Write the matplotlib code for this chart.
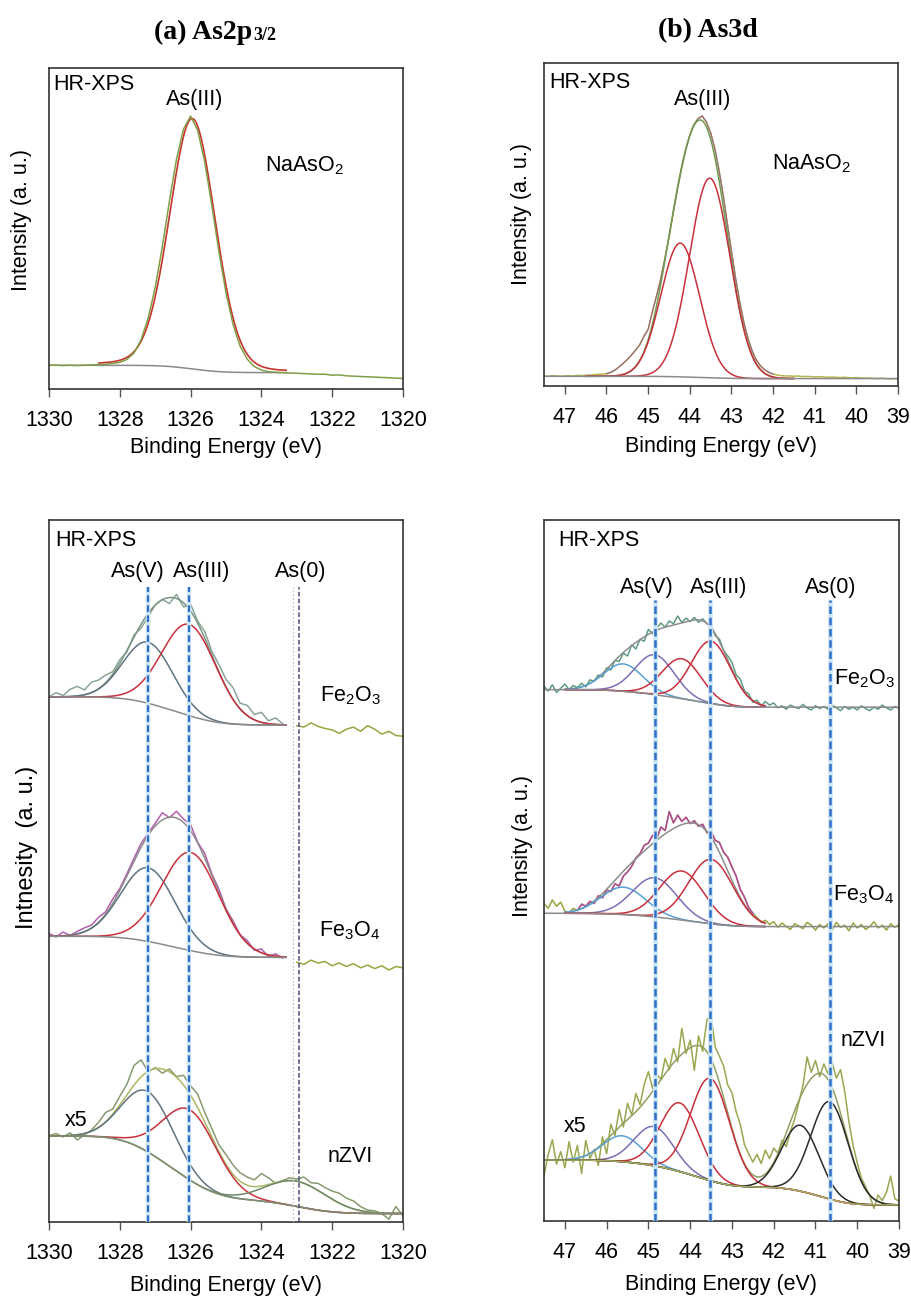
import numpy as np
import matplotlib
matplotlib.use("Agg")
import matplotlib.pyplot as plt

plt.rcParams['font.family'] = ['Liberation Sans', 'DejaVu Sans']
plt.rcParams['mathtext.fontset'] = 'custom'
plt.rcParams['mathtext.rm'] = 'Liberation Sans'
plt.rcParams['mathtext.it'] = 'Liberation Sans:italic'
plt.rcParams['mathtext.bf'] = 'Liberation Sans:bold'

W, H = 912, 1298

# ------------------------------------------------------------------ data
a_xlim = (1330.0, 1320.0)
b_xlim = (47.5, 39.0)
a_ticks = [1330, 1328, 1326, 1324, 1322, 1320]
b_ticks = [47, 46, 45, 44, 43, 42, 41, 40, 39]

# (a) As2p3/2 -- NaAsO2 reference
a_na_start, a_na_step = 1330.0, 0.2
a_na_raw = [7.4, 7.4, 7.3, 7.4, 7.3, 7.4, 7.5, 7.6, 7.7, 8.0,
            8.3, 9.2, 11.2, 15.3, 22.0, 31.6, 44.2, 58.4, 71.5, 81.0,
            85.0, 80.6, 70.7, 57.2, 42.8, 30.0, 20.1, 13.3, 9.3, 7.0,
            5.9, 5.4, 5.2, 5.1, 5.0, 4.9, 4.8, 4.7, 4.6, 4.6,
            4.3, 4.4, 4.1, 4.0, 3.9, 3.8, 3.7, 3.6, 3.5, 3.4,
            3.3]
a_na_centers = [1325.95]
a_na_heights = [78.0]
a_na_fwhm = [1.52]
a_na_eta = [0.12]
a_na_bg = (7.4, 5.1)
a_na_range = (1330.0, 1323.3)
a_na_comp_range = (1328.6, 1323.3)

# (a) As2p3/2 -- adsorbed samples (offset stack)
a_fe2o3_start, a_step = 1330.0, 0.2
a_fe2o3_raw = [74.8, 75.4, 75.0, 75.9, 76.3, 75.8, 76.9, 77.2, 77.9, 78.4,
               80.1, 81.2, 83.6, 84.6, 86.2, 87.9, 88.7, 88.1, 89.4, 87.6,
               88.0, 85.6, 84.1, 81.3, 79.4, 77.3, 76.1, 73.9, 73.6, 72.3,
               72.6, 71.4, 71.8, 71.0]
a_fe2o3_tail_start = 1323.0
a_fe2o3_tail = [70.7, 70.5, 71.1, 70.6, 70.3, 70.1, 69.6, 70.2, 70.5, 69.9,
                70.7, 70.2, 69.5, 69.9, 69.3, 69.2]
a_fe2o3_centers = [1327.2, 1326.04]
a_fe2o3_heights = [8.7, 13.0]
a_fe2o3_fwhm = [1.64, 1.8]
a_fe2o3_bg = (74.8, 70.8)

a_fe3o4_start = 1330.0
a_fe3o4_raw = [41.1, 40.6, 41.3, 40.8, 41.4, 41.9, 42.3, 43.4, 44.2, 46.0,
               47.5, 49.6, 51.8, 53.9, 55.4, 56.8, 58.3, 57.6, 58.5, 57.4,
               56.6, 54.1, 52.5, 49.6, 47.4, 44.6, 42.9, 40.9, 40.1, 38.7,
               38.9, 37.8, 38.2, 37.6]
a_fe3o4_tail_start = 1323.0
a_fe3o4_tail = [37.0, 36.7, 37.3, 36.9, 37.1, 36.5, 36.9, 36.4, 36.8, 36.2,
                36.6, 36.1, 36.5, 35.9, 36.4, 36.2]
a_fe3o4_centers = [1327.2, 1326.0]
a_fe3o4_heights = [10.5, 14.0]
a_fe3o4_fwhm = [1.8, 1.9]
a_fe3o4_bg = (40.7, 37.7)
a_oxide_range = (1330.0, 1323.3)

a_nzvi_start = 1330.0
a_nzvi_raw = [12.3, 12.6, 12.1, 12.7, 11.7, 12.4, 13.1, 14.2, 15.6, 16.1,
              17.9, 19.6, 22.3, 23.1, 21.4, 22.0, 21.2, 21.8, 20.7, 20.9,
              19.4, 18.2, 15.6, 13.3, 11.0, 9.6, 8.1, 7.0, 6.4, 6.0,
              6.9, 6.3, 5.5, 5.9, 6.3, 6.1, 6.4, 5.6, 5.5, 4.9,
              4.4, 4.1, 3.4, 3.0, 2.2, 1.7, 1.6, 1.2, 0.4, 2.2,
              0.9]
a_nzvi_centers = [1327.2, 1326.0, 1323.0]
a_nzvi_heights = [8.6, 10.0, 3.6]
a_nzvi_fwhm = [1.7, 1.8, 2.0]
a_nzvi_bg = (12.25, 1.2)

a_lines = [1327.2, 1326.05, 1322.95]
a_line_labels = ["As(V)", "As(III)", "As(0)"]

# (b) As3d -- NaAsO2 reference
b_start, b_step = 47.5, 0.1
b_na_raw = [3.1, 3.0, 3.2, 3.1, 3.0, 3.1, 3.2, 3.1, 3.3, 3.2, 3.3, 3.4, 3.5, 3.6, 3.7,
            3.8, 4.2, 4.9, 5.9, 7.0, 8.2, 9.6, 11.1, 12.8, 15.4,
            17.5, 22.9, 27.8, 33.0, 39.3, 46.0, 53.4, 60.6, 67.2, 72.9,
            77.6, 80.9, 82.8, 83.6, 81.7, 78.5, 73.6, 67.0, 59.3, 50.5,
            41.8, 33.4, 26.0, 19.6, 14.6, 10.8, 8.0, 6.2, 5.0, 4.2,
            3.7, 3.4, 3.2, 3.1, 3.1, 3.0, 3.1, 2.9, 3.0, 2.9,
            2.8, 2.9, 2.8, 2.7, 2.8, 2.7, 2.6, 2.7, 2.6, 2.5,
            2.6, 2.5, 2.4, 2.5, 2.4, 2.3, 2.4, 2.3, 2.2, 2.3,
            2.2]
b_na_centers = [44.23, 43.52]
b_na_heights = [41.4, 61.8]
b_na_fwhm = [1.1, 1.15]
b_na_bg = (3.0, 2.3)
b_na_comp_range = (46.5, 41.5)

# (b) As3d -- adsorbed samples
b_fe2o3_raw = [76.3, 75.6, 76.5, 75.4, 76.0, 76.6, 75.8, 76.4, 76.1, 76.7,
               76.2, 77.2, 77.0, 77.9, 77.6, 78.9, 78.6, 80.0, 79.8, 81.0,
               80.6, 82.2, 81.6, 83.0, 82.7, 84.4, 83.8, 84.6, 85.3, 84.7,
               85.6, 85.2, 86.3, 85.4, 86.0, 85.5, 86.1, 85.4, 85.9, 85.2,
               85.0, 83.5, 83.0, 81.4, 80.6, 79.7, 77.9, 77.3, 75.6, 75.2,
               74.0, 74.3, 73.5, 74.1, 73.6, 73.9, 73.2, 73.5, 73.0, 73.6,
               73.3, 73.1, 73.7, 73.2, 72.9, 73.5, 73.1, 73.4, 73.0, 73.6,
               73.2, 72.8, 73.4, 73.0, 73.3, 72.9, 73.5, 73.1, 72.8, 73.3,
               73.0, 73.6, 73.2, 72.9, 73.4, 73.1]
b_fe2o3_centers = [45.6, 44.85, 44.2, 43.5]
b_fe2o3_heights = [3.9, 5.7, 5.7, 8.9]
b_fe2o3_fwhm = [1.1, 1.1, 1.1, 1.1]
b_fe2o3_bg = (75.8, 73.3)

b_fe3o4_raw = [45.3, 44.6, 45.8, 44.9, 45.5, 44.2, 44.0, 44.6, 44.3, 45.2,
               44.9, 45.6, 45.3, 46.4, 46.1, 47.2, 47.0, 48.1, 47.8, 49.2,
               49.8, 50.6, 51.8, 52.4, 53.6, 53.9, 55.0, 54.6, 56.2, 55.7,
               58.4, 56.8, 57.9, 57.0, 57.6, 56.7, 57.1, 56.3, 56.6, 55.4,
               55.6, 54.3, 54.0, 52.6, 51.9, 50.5, 49.2, 47.3, 46.2, 44.7,
               43.9, 43.3, 42.6, 42.9, 42.3, 42.7, 41.9, 42.5, 42.0, 41.6,
               42.4, 42.1, 41.7, 42.6, 42.2, 41.5, 42.3, 41.8, 42.4, 41.5,
               42.6, 41.9, 42.2, 41.4, 42.5, 41.8, 42.3, 41.6, 42.0, 42.7,
               41.8, 42.2, 41.5, 42.4, 41.9, 42.3]
b_fe3o4_centers = [45.6, 44.85, 44.2, 43.5]
b_fe3o4_heights = [3.9, 5.6, 7.0, 9.2]
b_fe3o4_fwhm = [1.25, 1.25, 1.25, 1.25]
b_fe3o4_bg = (43.9, 42.0)
b_oxide_comp_range = (47.0, 42.2)

b_nzvi_raw = [6.4, 9.5, 11.6, 8.1, 9.9, 7.6, 11.3, 8.4, 10.8, 6.8,
              11.5, 8.9, 10.2, 7.9, 12.0, 9.6, 13.8, 12.2, 15.9, 13.4,
              16.8, 15.1, 18.2, 16.6, 19.5, 21.3, 18.9, 20.9, 20.2, 23.2,
              21.6, 24.6, 22.7, 27.5, 23.9, 25.8, 21.5, 26.4, 24.2, 28.7,
              29.3, 24.8, 23.5, 22.1, 19.4, 18.3, 15.6, 13.8, 10.9, 9.6,
              8.4, 9.5, 8.2, 10.1, 8.9, 10.4, 9.7, 11.5, 10.6, 12.8,
              14.5, 16.9, 19.3, 23.4, 21.2, 22.9, 20.6, 22.4, 21.0, 22.6,
              20.4, 21.6, 18.5, 14.2, 10.8, 8.3, 6.1, 4.9, 3.6, 1.8,
              3.7, 2.9, 4.1, 6.4, 3.2, 2.8]
b_nzvi_centers = [45.63, 44.87, 44.25, 43.52, 41.36, 40.66]
b_nzvi_heights = [3.7, 5.6, 9.8, 14.6, 9.4, 13.9]
b_nzvi_fwhm = [1.1, 1.1, 1.1, 1.1, 1.05, 1.05]
b_nzvi_bg = (8.7, 2.3)

b_lines = [44.85, 43.52, 40.65]
b_line_labels = ["As(V)", "As(III)", "As(0)"]

# ------------------------------------------------------------------ colours
RED = '#c8303c'
SLATE = '#5f7380'
BGC = '#8a8a8a'
BLUE1 = '#5aa0d2'
BLUE2 = '#7b6fb5'
BLACK = '#2a2a2a'
OLIVE = '#9aa43e'
DASH = '#2f6fc6'
FS = 15.5


def pv(E, c, h, w, eta=0.0):
    g = np.exp(-4 * np.log(2) * ((E - c) / w) ** 2)
    lo = 1.0 / (1.0 + 4 * ((E - c) / w) ** 2)
    return h * ((1 - eta) * g + eta * lo)


def shirley(total, left, right):
    cum = np.cumsum(total[::-1])[::-1]
    return right + (left - right) * cum / cum[0]


def fit(E, centers, heights, fwhm, bg_lr, etas=None):
    if etas is None:
        etas = [0.0] * len(centers)
    comps = [pv(E, c, h, w, e) for c, h, w, e in zip(centers, heights, fwhm, etas)]
    total = np.sum(comps, axis=0)
    bg = shirley(total, *bg_lr)
    return bg, comps, bg + total


def grid(start, step, n):
    return start - step * np.arange(n)


fig = plt.figure(figsize=(W / 100, H / 100), dpi=100)


def add_ax(l, t, r, b):
    return fig.add_axes([l / W, 1 - b / H, (r - l) / W, (b - t) / H])


ax1 = add_ax(49, 68, 403, 389)
ax2 = add_ax(544, 63, 898, 386)
ax3 = add_ax(49, 520, 403, 1222)
ax4 = add_ax(544, 520, 899, 1221)

for ax, xl, tk in [(ax1, a_xlim, a_ticks), (ax2, b_xlim, b_ticks),
                   (ax3, a_xlim, a_ticks), (ax4, b_xlim, b_ticks)]:
    ax.set_xlim(*xl)
    ax.set_ylim(0, 100)
    ax.set_xticks(tk)
    ax.set_xticklabels([str(t) for t in tk])
    ax.tick_params(axis='x', direction='out', length=6, width=1.0, color='#555555',
                   pad=9, labelsize=FS)
    ax.tick_params(axis='y', left=False, labelleft=False)
    for s in ax.spines.values():
        s.set_linewidth(1.2)
        s.set_color('#333333')
    ax.set_xlabel('Binding Energy (eV)', fontsize=FS)

ax1.xaxis.set_label_coords(0.5, -0.148)
ax2.xaxis.set_label_coords(0.5, -0.156)
ax3.xaxis.set_label_coords(0.5, -0.075)
ax4.xaxis.set_label_coords(0.5, -0.075)

LW = 1.1

# ---------------- panel (a) top
E = np.linspace(a_na_range[0], a_na_range[1], 700)
bg, comps, env = fit(E, a_na_centers, a_na_heights, a_na_fwhm, a_na_bg, a_na_eta)
Er = grid(a_na_start, a_na_step, len(a_na_raw))
m = (E <= a_na_comp_range[0]) & (E >= a_na_comp_range[1])
ax1.plot(E[m], env[m], color='#e0c860', lw=LW)
ax1.plot(E[m], (bg + comps[0])[m], color=RED, lw=LW)
ax1.plot(E, bg, color=BGC, lw=LW)
ax1.plot(Er, a_na_raw, color='#7f9e45', lw=LW)

# ---------------- panel (b) top
E = np.linspace(b_xlim[0], b_xlim[1], 900)
bg, comps, env = fit(E, b_na_centers, b_na_heights, b_na_fwhm, b_na_bg)
Er = grid(b_start, b_step, len(b_na_raw))
ax2.plot(Er, b_na_raw, color='#b5b84a', lw=LW)
mr = (Er <= 46.0) & (Er >= 42.0)
ax2.plot(Er[mr], np.array(b_na_raw)[mr], color='#9a6a7e', lw=0.9)
m = (E <= b_na_comp_range[0]) & (E >= b_na_comp_range[1])
ax2.plot(E[m], env[m], color='#6f9a50', lw=LW)
for c in comps:
    ax2.plot(E[m], (bg + c)[m], color=RED, lw=LW)
ax2.plot(E, bg, color=BGC, lw=LW)

# ---------------- panel (a) bottom
E = np.linspace(a_oxide_range[0], a_oxide_range[1], 700)
for raw, start, tail, tstart, cen, hei, fw, bgl, rawc, envc in [
        (a_fe2o3_raw, a_fe2o3_start, a_fe2o3_tail, a_fe2o3_tail_start, a_fe2o3_centers,
         a_fe2o3_heights, a_fe2o3_fwhm, a_fe2o3_bg, '#8aa596', '#7a9682'),
        (a_fe3o4_raw, a_fe3o4_start, a_fe3o4_tail, a_fe3o4_tail_start, a_fe3o4_centers,
         a_fe3o4_heights, a_fe3o4_fwhm, a_fe3o4_bg, '#b45fae', '#8c8c8c')]:
    bg, comps, env = fit(E, cen, hei, fw, bgl)
    Er = grid(start, a_step, len(raw))
    ax3.plot(Er, raw, color=rawc, lw=LW)
    ax3.plot(E, env, color=envc, lw=LW)
    ax3.plot(E, bg + comps[0], color=SLATE, lw=LW)
    ax3.plot(E, bg + comps[1], color=RED, lw=LW)
    ax3.plot(E, bg, color=BGC, lw=LW)
    Et = grid(tstart, a_step, len(tail))
    ax3.plot(Et, tail, color=OLIVE, lw=LW)

E = np.linspace(a_xlim[0], a_xlim[1], 900)
bg, comps, env = fit(E, a_nzvi_centers, a_nzvi_heights, a_nzvi_fwhm, a_nzvi_bg)
Er = grid(a_nzvi_start, a_step, len(a_nzvi_raw))
ax3.plot(Er, a_nzvi_raw, color='#879a70', lw=LW)
ax3.plot(E, env, color='#a9b863', lw=LW)
ax3.plot(E, bg + comps[0], color=SLATE, lw=LW)
ax3.plot(E, bg + comps[1], color=RED, lw=LW)
ax3.plot(E, bg + comps[2], color='#6f8a6a', lw=LW)
ax3.plot(E, bg, color='#7f8f6f', lw=LW)

ytop_a = 90.5
ax3.vlines(a_lines[:2], 0, ytop_a, color='#cfe6f6', lw=3.2, zorder=4)
ax3.vlines(a_lines[:2], 0, ytop_a, color=DASH, lw=1.6, linestyles=(0, (3.0, 1.5)), zorder=5)
ax3.vlines([1323.1], 0, ytop_a, color='#c8c8d0', lw=0.9, linestyles=(0, (1.5, 1.5)), zorder=4)
ax3.vlines(a_lines[2:], 0, ytop_a, color='#4a4a78', lw=1.1, linestyles=(0, (3.0, 1.5)), zorder=5)

# ---------------- panel (b) bottom
E = np.linspace(b_xlim[0], b_xlim[1], 900)
mc = (E <= b_oxide_comp_range[0]) & (E >= b_oxide_comp_range[1])
comp_cols = [BLUE1, BLUE2, RED, RED]
for raw, cen, hei, fw, bgl, rawc in [
        (b_fe2o3_raw, b_fe2o3_centers, b_fe2o3_heights, b_fe2o3_fwhm, b_fe2o3_bg, '#5e9c80'),
        (b_fe3o4_raw, b_fe3o4_centers, b_fe3o4_heights, b_fe3o4_fwhm, b_fe3o4_bg, OLIVE)]:
    bg, comps, env = fit(E, cen, hei, fw, bgl)
    Er = grid(b_start, b_step, len(raw))
    ax4.plot(Er, raw, color=rawc, lw=LW)
    if raw is b_fe3o4_raw:
        mr = (Er <= 46.7) & (Er >= 42.5)
        ax4.plot(Er[mr], np.array(raw)[mr], color='#b4489a', lw=LW)
    ax4.plot(E[mc], env[mc], color='#8c8c8c', lw=LW)
    for c, col in zip(comps, comp_cols):
        ax4.plot(E[mc], (bg + c)[mc], color=col, lw=LW)
    ax4.plot(E, bg, color=BGC, lw=LW)

bg, comps, env = fit(E, b_nzvi_centers, b_nzvi_heights, b_nzvi_fwhm, b_nzvi_bg)
Er = grid(b_start, b_step, len(b_nzvi_raw))
ax4.plot(Er, b_nzvi_raw, color='#98a850', lw=LW)
ax4.plot(E, env, color='#8fa060', lw=LW)
for c, col in zip(comps, comp_cols + [BLACK, BLACK]):
    ax4.plot(E, bg + c, color=col, lw=LW)
ax4.plot(E, bg, color='#a8b060', lw=LW)

ytop_b = 88.6
ax4.vlines(b_lines, 0, ytop_b, color='#cfe6f6', lw=3.4, zorder=4)
ax4.vlines(b_lines, 0, ytop_b, color=DASH, lw=1.8, linestyles=(0, (3.0, 1.5)), zorder=5)


# ------------------------------------------------------------------ texts
def ftext(px, py, s, **kw):
    kw.setdefault('fontsize', FS)
    return fig.text(px / W, 1 - py / H, s, **kw)


# titles
t = ftext(154, 39, '(a) As2p', family='Liberation Serif', fontweight='bold',
          fontsize=20, ha='left', va='baseline')
ax1.annotate('3/2', xy=(1, 0), xycoords=t, xytext=(0.5, 3.5), textcoords='offset points',
             family='Liberation Serif', fontweight='bold', fontsize=13,
             ha='left', va='baseline', annotation_clip=False)
ftext(708, 37, '(b) As3d', family='Liberation Serif', fontweight='bold',
      fontsize=20, ha='center', va='baseline')

# y labels
ftext(22, 220, 'Intensity (a. u.)', rotation=90, ha='center', va='center')
ftext(522, 214, 'Intensity (a. u.)', rotation=90, ha='center', va='center')
ftext(27, 847, 'Intnesity  (a. u.)', rotation=90, ha='center', va='center', fontsize=17)
ftext(523, 846, 'Intensity (a. u.)', rotation=90, ha='center', va='center')

# in-panel labels
ftext(53, 84, 'HR-XPS', ha='left', va='center')
ftext(195, 100, 'As(III)', ha='center', va='center')
ftext(305, 166, r'NaAsO$_2$', ha='center', va='center')

ftext(549, 82, 'HR-XPS', ha='left', va='center')
ftext(703, 100, 'As(III)', ha='center', va='center')
ftext(812, 164, r'NaAsO$_2$', ha='center', va='center')

ftext(55, 541, 'HR-XPS', ha='left', va='center')
for x, s in zip([138, 202, 301], a_line_labels):
    ftext(x, 572, s, ha='center', va='center')
ftext(350, 696, r'Fe$_2$O$_3$', ha='center', va='center')
ftext(350, 931, r'Fe$_3$O$_4$', ha='center', va='center')
ftext(350, 1157, 'nZVI', ha='center', va='center')
ftext(76, 1120, 'x5', ha='center', va='center')

ftext(558, 541, 'HR-XPS', ha='left', va='center')
for x, s in zip([647, 719, 831], b_line_labels):
    ftext(x, 587, s, ha='center', va='center')
ftext(864, 679, r'Fe$_2$O$_3$', ha='center', va='center')
ftext(864, 895, r'Fe$_3$O$_4$', ha='center', va='center')
ftext(863, 1040, 'nZVI', ha='center', va='center')
ftext(575, 1126, 'x5', ha='center', va='center')

fig.savefig('out.png', dpi=100, facecolor='white')
